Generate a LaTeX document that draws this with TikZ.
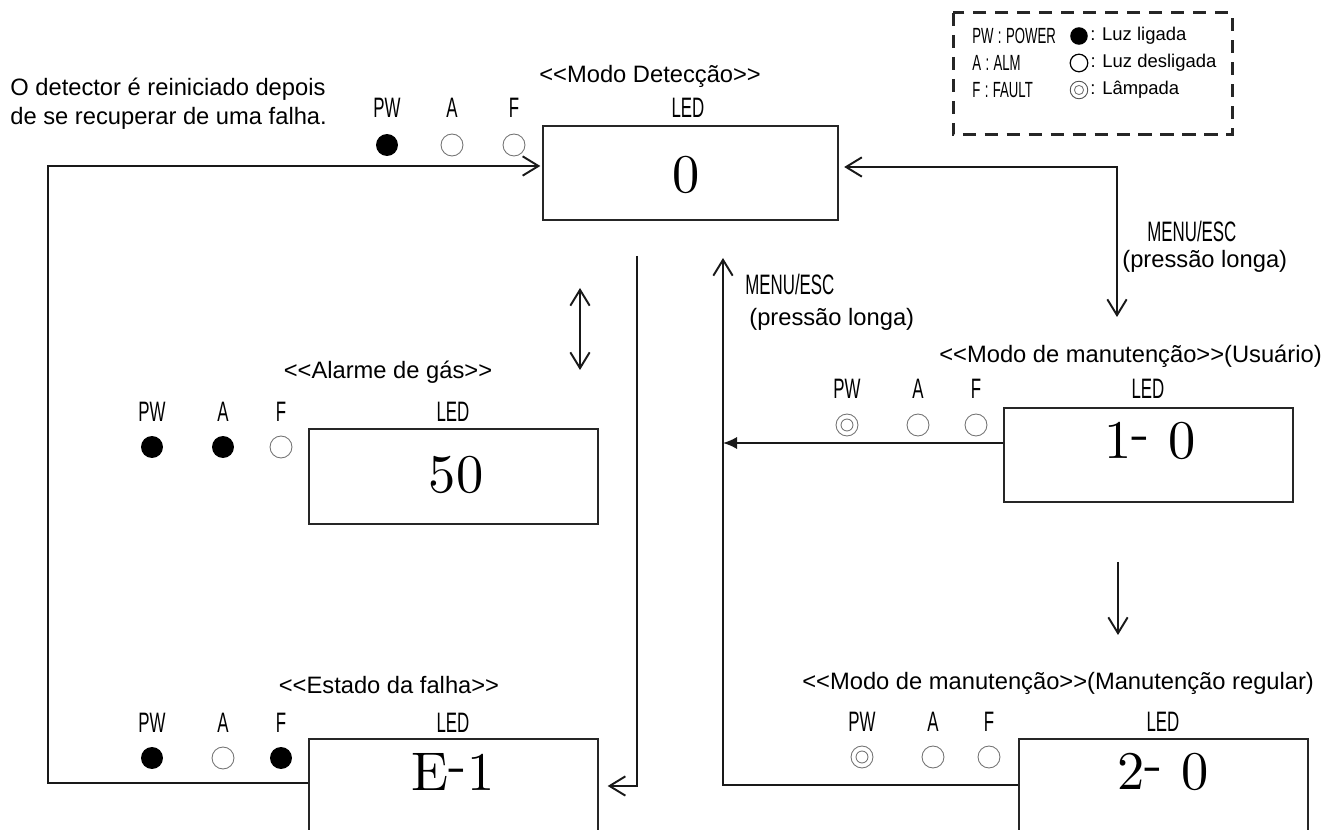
\documentclass[tikz,border=0pt]{standalone}
\usepackage{fontspec}
\newfontfamily\arialfont{Liberation Sans}
\newfontfamily\narrowfont[FakeStretch=0.6]{Liberation Sans}
\newfontfamily\digitfont[Extension=.otf]{lmroman10-regular}
\usetikzlibrary{arrows.meta,calc}
\newcommand\dlt{<\kern0pt<}
\newcommand\dgt{>\kern0pt>}
\newcommand\hy{\raisebox{0.15em}{-}}
\newcommand\colsep{\hspace{2.5pt}:\hspace{2.5pt}}
\tikzset{
  ledbox/.style={draw=black!85, line width=1.1pt, minimum width=57.8mm, minimum height=18.9mm, inner sep=0pt},
  digit/.style={font=\digitfont\fontsize{31}{36}\selectfont, inner sep=0pt},
  tag/.style={font=\narrowfont\fontsize{16}{18}\selectfont, inner sep=0pt},
  legtag/.style={font=\narrowfont\fontsize{12.5}{15}\selectfont, inner sep=0pt},
  note/.style={font=\arialfont\fontsize{13.5}{16.4}\selectfont, inner sep=0pt},
  legnote/.style={font=\arialfont\fontsize{10.5}{12}\selectfont, inner sep=0pt},
  ledon/.style={circle, fill=black, minimum size=12.5pt, inner sep=0pt},
  ledoff/.style={circle, draw=black!55, line width=0.5pt, minimum size=12.5pt, inner sep=0pt},
  ledlamp/.style={ledoff, path picture={\draw[black!55, line width=0.5pt] (path picture bounding box.center) circle (#1);}},
  ledlamp/.default=3.4pt,
  conn/.style={draw=black!90, line width=1.1pt},
}
\begin{document}
\begin{tikzpicture}[x=0.02cm, y=-0.02cm, >={Straight Barb[length=9pt, width=11pt]}]
\clip (0,0) rectangle (1340,830);
% 图例
\draw[black!85, line width=1.7pt, dash pattern=on 7.5pt off 5pt] (953,13) rectangle (1232,135);
\node[legtag, anchor=west] (kpw) at (972,36) {PW\colsep POWER};
\node[legtag, anchor=west] (kalm) at (972,63) {A\colsep ALM};
\node[legtag, anchor=west] (kflt) at (972,90) {F\colsep FAULT};
\node[ledon, minimum size=10pt] (kon) at (1079,36) {};
\node[ledoff, draw=black, line width=0.7pt, minimum size=10pt] (koff) at (1079,63) {};
\node[ledlamp=2.6pt, draw=black!70, minimum size=10pt] (klamp) at (1079,90) {};
\node[legnote, anchor=west] (ton) at ([xshift=1pt]kon.east) {: Luz ligada};
\node[legnote, anchor=west] (toff) at ([xshift=1pt]koff.east) {: Luz desligada};
\node[legnote, anchor=west] (tlamp) at ([xshift=1pt]klamp.east) {: Lâmpada};
\node[note, anchor=west, align=left] (reset) at (10,104) {O detector é reiniciado depois\\de se recuperar de uma falha.};
% 各模式的显示框
\node[ledbox, minimum width=59mm, minimum height=18.8mm] (det) at (690.5,173) {};
\node[ledbox, minimum height=19mm] (alm) at (453.5,476.5) {};
\node[ledbox, minimum height=26mm] (flt) at (453.5,804) {};
\node[ledbox] (u1) at (1148.5,455) {};
\node[ledbox, minimum height=26mm] (u2) at (1163.5,804) {};
\node[digit] (det-d) at (686,175) {0};
\node[digit] (alm-d) at (456,475) {50};
\node[digit] (flt-d) at (453,772) {E\hy1};
\node[digit] (u1-d) at (1150,441) {1\hy\ 0};
\node[digit] (u2-d) at (1163,772) {2\hy\ 0};
% 标题
\node[note, anchor=west] (tdet) at (539,76) {\dlt Modo Detecção\dgt};
\node[note] (talm) at (388,372) {\dlt Alarme de gás\dgt};
\node[note] (tflt) at (389,685) {\dlt Estado da falha\dgt};
\node[note, anchor=west] (tu1) at (939,356) {\dlt Modo de manutenção\dgt(Usuário)};
\node[note, anchor=west] (tu2) at (802,683) {\dlt Modo de manutenção\dgt(Manutenção regular)};
% 指示灯 PW / A / F
\foreach \lab/\x/\st in {PW/387/ledon, A/452/ledoff, F/514/ledoff}
  {\node[tag] (det-\lab) at (\x,108) {\lab}; \node[\st] (det-\lab-l) at (\x,145) {};}
\foreach \lab/\x/\st in {PW/152/ledon, A/223/ledon, F/281/ledoff}
  {\node[tag] (alm-\lab) at (\x,412) {\lab}; \node[\st] (alm-\lab-l) at (\x,447) {};}
\foreach \lab/\x/\st in {PW/152/ledon, A/223/ledoff, F/281/ledon}
  {\node[tag] (flt-\lab) at (\x,723) {\lab}; \node[\st] (flt-\lab-l) at (\x,758) {};}
\foreach \lab/\x/\st in {PW/847/ledlamp, A/918/ledoff, F/976/ledoff}
  {\node[tag] (u1-\lab) at (\x,389) {\lab}; \node[\st] (u1-\lab-l) at (\x,425) {};}
\foreach \lab/\x/\st in {PW/862/ledlamp, A/933/ledoff, F/989/ledoff}
  {\node[tag] (u2-\lab) at (\x,722) {\lab}; \node[\st] (u2-\lab-l) at (\x,757) {};}
\node[tag] (det-led) at (688,108) {LED};
\node[tag] (alm-led) at (453,412) {LED};
\node[tag] (flt-led) at (453,723) {LED};
\node[tag] (u1-led) at (1148,389) {LED};
\node[tag] (u2-led) at (1163,722) {LED};
\node[tag, anchor=west] (m1) at (1147,231) {MENU/ESC};
\node[note, anchor=west] (p1) at (1122,261) {(pressão longa)};
\node[tag, anchor=west] (m2) at (745,284) {MENU/ESC};
\node[note, anchor=west] (p2) at (749,319) {(pressão longa)};
% 连线
\coordinate (lpA) at (48,783);
\coordinate (lpB) at (48,166);
\draw[conn,->, shorten >=1pt] (lpA -| flt.west) -- (lpA) -- (lpB) -- (lpB -| det.west);
\coordinate (rtA) at (1117,167);
\coordinate (rtB) at (1117,317);
\draw[conn,<->, shorten <=3pt] (rtA -| det.east) -- (rtA) -- (rtB);
\coordinate (dnA) at (637,256);
\coordinate (dnB) at (637,786);
\draw[conn,->, shorten >=5pt] (dnA) -- (dnB) -- (dnB -| flt.east);
\coordinate (upA) at (723,785);
\coordinate (upB) at (723,258);
\draw[conn,->] (upA -| u2.west) -- (upA) -- (upB);
\coordinate (u1L) at (723,443);
\draw[conn,-{Latex[length=8pt, width=7pt]}] (u1L -| u1.west) -- (u1L);
\coordinate (vA) at (580,288);
\coordinate (vB) at (580,370);
\draw[conn,<->] (vA) -- (vB);
\coordinate (sA) at (1118,562);
\coordinate (sB) at (1118,635);
\draw[conn,->] (sA) -- (sB);
\end{tikzpicture}
\end{document}
